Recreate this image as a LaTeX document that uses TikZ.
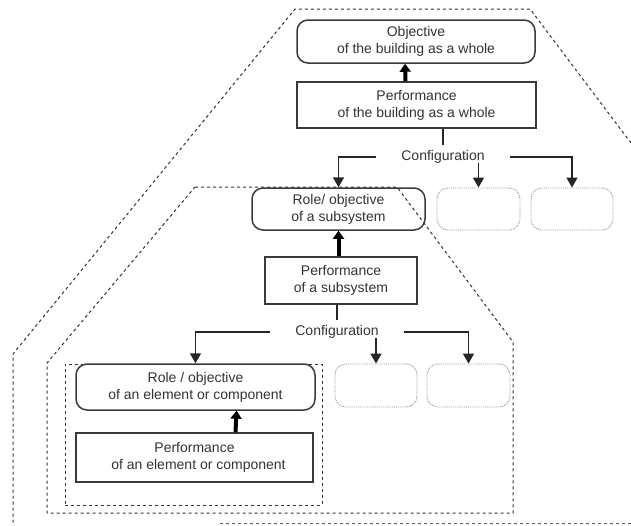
\documentclass[tikz,border=0pt]{standalone}
\usepackage{fontspec}
\setmainfont{Liberation Sans}
\usetikzlibrary{arrows.meta}
\definecolor{ink}{HTML}{333333}
\definecolor{edge}{HTML}{3A3A3A}
\tikzset{
  every node/.style={font=\fontsize{14}{17}\selectfont, text=ink, align=center},
  box/.style={draw=edge, line width=1.5pt, inner sep=0pt},
  rbox/.style={box, rounded corners=11pt},
  ghost/.style={draw=gray!85, densely dotted, line width=0.9pt, rounded corners=11pt, inner sep=0pt},
  frame/.style={draw=black!80, line width=1pt, dash pattern=on 3pt off 3pt},
  cfg/.style={inner xsep=25pt, inner ysep=0pt, minimum height=24pt},
  arr/.style={draw=black!85, line width=1.5pt, -{Triangle[length=10pt,width=11pt]}},
  link/.style={draw=black!85, line width=1.5pt},
  bigarr/.style={draw=black, line width=4pt, -{Triangle[length=8pt,width=11pt]}},
}
\begin{document}
\begin{tikzpicture}[x=1pt,y=-1pt]
\useasboundingbox (0,0) rectangle (631,525);
% frames
\begin{scope}
\clip (0,0) rectangle (631,525);
\draw[frame] (631,143) -- (530,9) -- (295,9) -- (13,354) -- (13,526);
\draw[frame, draw=black!65] (220,523) -- (632,523);
\end{scope}
\draw[frame] (195,187) -- (397,187) -- (513,342) -- (513,513) -- (47,513) -- (47,363) -- cycle;
% top level
\node[rbox, minimum width=238pt, minimum height=43pt] (ob) at (416,41.5) {Objective\\of the building as a whole};
\node[box, minimum width=239pt, minimum height=46pt] (pb) at (416.5,105) {Performance\\of the building as a whole};
\node[cfg] (c1) at (443,157) {Configuration};
\node[rbox, minimum width=173pt, minimum height=42pt] (rs) at (338.5,209) {Role/ objective\\of a subsystem};
\node[ghost, minimum width=83pt, minimum height=42pt] (d1) at (478.5,209) {};
\node[ghost, minimum width=82pt, minimum height=42pt] (d2) at (572,209) {};
\draw[bigarr] ([xshift=-11pt]pb.north) -- ([xshift=-11pt]ob.south);
\draw[link] (c1.north |- pb.south) -- (c1.north);
\draw[arr] (c1.west) -| (rs.north);
\draw[arr] ([yshift=6pt]c1.south -| d1.north) -- (d1.north);
\draw[arr] (c1.east) -| (d2.north);
% subsystem level
\node[box, minimum width=152pt, minimum height=47pt] (ps) at (341,280.5) {Performance\\of a subsystem};
\node[cfg] (c2) at (337,332) {Configuration};
\node[ghost, minimum width=82pt, minimum height=43pt] (d3) at (376,385.5) {};
\node[ghost, minimum width=83pt, minimum height=43pt] (d4) at (468.5,385.5) {};
\draw[bigarr] (rs.south |- ps.north) -- (rs.south);
\draw[link] (c2.north |- ps.south) -- (c2.north);
% element level
\node[draw=black!80, line width=1pt, dash pattern=on 3pt off 3pt, minimum width=257pt, minimum height=141pt, inner sep=0pt] (eb) at (193.5,434.5) {};
\node[rbox, minimum width=239pt, minimum height=46pt] (re) at (195.5,387) {Role / objective\\of an element or component};
\node[box, minimum width=237pt, minimum height=49pt] (pe) at (194.5,457.5) {Performance\\\hspace*{8pt}of an element or component};
\draw[arr] (c2.west) -| (re.north);
\draw[arr] ([yshift=6pt]c2.south -| d3.north) -- (d3.north);
\draw[arr] (c2.east) -| (d4.north);
\draw[bigarr] ([xshift=41pt]pe.north) -- ([xshift=41pt]re.south);
\end{tikzpicture}
\end{document}
